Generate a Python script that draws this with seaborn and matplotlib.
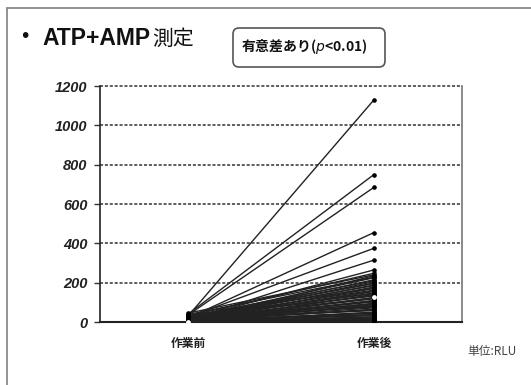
import pandas as pd
import numpy as np
import matplotlib.pyplot as plt
import seaborn as sns
from matplotlib.patches import FancyBboxPatch
from matplotlib.lines import Line2D
from matplotlib.transforms import IdentityTransform

# values (RLU)
timepoints = ['作業前', '作業後']
before = [30, 40, 35, 20, 25, 10, 15, 30, 5, 20, 12, 8, 25, 18, 3, 10, 22, 6, 15, 2,
          28, 9, 4, 14, 7, 1, 11, 5, 3, 16, 2, 8, 4, 6, 1, 3, 2, 5, 0, 1,
          45, 38, 26, 19, 12, 33, 9, 24, 6, 17, 2, 13, 4, 21, 7, 0, 11, 3, 1, 5]
after = [1130, 750, 685, 455, 375, 315, 265, 248, 235, 225, 215, 205, 195, 185, 178, 170,
         162, 155, 148, 140, 132, 118, 110, 102, 95, 88, 80, 72, 65, 58, 50, 44, 38, 32,
         26, 20, 15, 10, 6, 3,
         240, 228, 210, 198, 188, 172, 158, 144, 136, 122, 106, 92, 84, 76, 62, 48, 36, 24,
         14, 8]
# one subject drawn with open (white) markers
open_before = 0
open_after = 125
yticks = [0, 200, 400, 600, 800, 1000, 1200]

rows = []
for i, (b, a) in enumerate(zip(before, after)):
    rows.append({'id': i, 'x': 0, 'value': b})
    rows.append({'id': i, 'x': 1, 'value': a})
df = pd.DataFrame(rows)
df_open = pd.DataFrame({'id': [999, 999], 'x': [0, 1], 'value': [open_before, open_after]})

sns.set_style('white')
plt.rcParams['font.family'] = ['Liberation Sans', 'Noto Sans CJK JP', 'DejaVu Sans']

fig = plt.figure(figsize=(5.31, 3.85), dpi=100)
ax = fig.add_axes([100 / 531, 63 / 385, 362 / 531, 236 / 385])

sns.lineplot(data=df, x='x', y='value', units='id', estimator=None, color='#222222',
             linewidth=1.0, legend=False, ax=ax)
sns.lineplot(data=df_open, x='x', y='value', units='id', estimator=None, color='#222222',
             linewidth=1.0, legend=False, ax=ax)
sns.scatterplot(data=df, x='x', y='value', color='black', s=11, linewidth=0, ax=ax, zorder=3)
sns.scatterplot(data=df_open, x='x', y='value', color='white', s=12, linewidth=0,
                ax=ax, zorder=4)

ax.set_xlim(-0.473, 1.473)
ax.set_ylim(0, 1200)
ax.set_xticks([0, 1])
ax.set_xticklabels(timepoints, fontsize=8.5, fontweight='bold', family=['Noto Sans CJK JP'],
                   color='#222222')
ax.set_yticks(yticks)
ax.set_yticklabels([str(t) for t in yticks], fontsize=10.5, fontweight='bold',
                   fontstyle='italic', color='#222222')
ax.tick_params(axis='x', length=0, pad=11)
ax.tick_params(axis='y', length=4, width=1, color='#333333', pad=5, left=True)
ax.set_xlabel('')
ax.set_ylabel('')

ax.yaxis.grid(True, color='#333333', linestyle=(0, (2, 1.2)), linewidth=1.1)
for gl in ax.get_ygridlines():
    gl.set_clip_on(False)
ax.set_axisbelow(True)

ax.spines['top'].set_visible(False)
ax.spines['left'].set_color('#222222')
ax.spines['left'].set_linewidth(1.2)
ax.spines['bottom'].set_color('#222222')
ax.spines['bottom'].set_linewidth(1.5)
ax.spines['right'].set_color('#777777')
ax.spines['right'].set_linewidth(1.2)

# slide frame
fig.add_artist(Line2D([7 / 531, 7 / 531], [0, 1 - 8 / 385], color='#8a8a8a', lw=1.3,
                      transform=fig.transFigure))
fig.add_artist(Line2D([7 / 531, 1], [1 - 8 / 385, 1 - 8 / 385], color='#8a8a8a', lw=1.3,
                      transform=fig.transFigure))

# title
fig.text(21 / 531, 1 - 37 / 385, '•', fontsize=15, va='center', ha='left', color='#111111')
fig.text(42 / 531, 1 - 45 / 385, 'ATP+AMP', fontsize=16.5, fontweight='bold', va='baseline',
         ha='left', color='#111111')
fig.text(152 / 531, 1 - 45 / 385, '測定', fontsize=15, va='baseline', ha='left',
         family=['Noto Sans CJK JP'], color='#111111')

# significance box
box = FancyBboxPatch((233, 385 - 67), 152, 39, boxstyle='round,pad=0,rounding_size=6',
                     transform=IdentityTransform(), facecolor='white', edgecolor='#555555',
                     linewidth=1.2)
fig.patches.append(box)
fig.text(241 / 531, 1 - 47 / 385, '有意差あり($\\mathit{p}$<0.01)', fontsize=10,
         fontweight='bold', va='center', ha='left', family=['Noto Sans CJK JP'],
         color='#111111')

fig.text(467 / 531, 1 - 352 / 385, '単位:RLU', fontsize=8.5, va='center', ha='left',
         family=['Noto Sans CJK JP'], color='#444444')

fig.savefig('out.png', dpi=100)
